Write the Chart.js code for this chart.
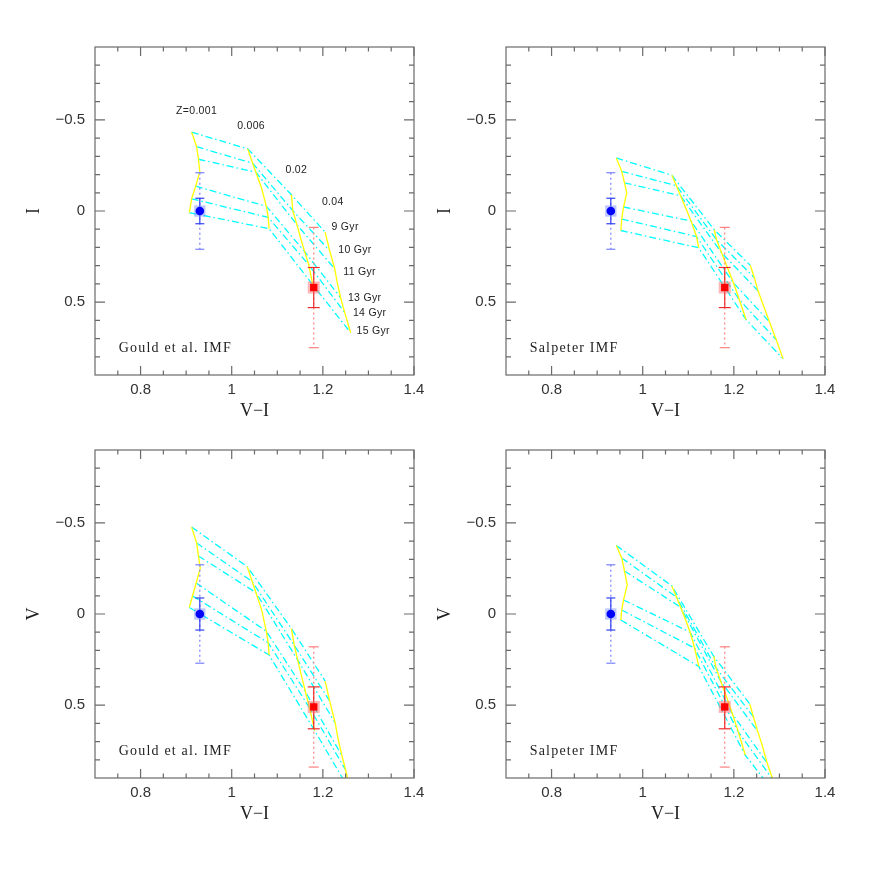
<!DOCTYPE html>
<html lang="en">
<head>
<meta charset="UTF-8">
<title>Red clump models vs V-I</title>
<script src="https://cdn.jsdelivr.net/npm/chart.js"></script>
<style>
  body { margin: 0; background: #fff; }
  .painel { position: absolute; width: 436px; height: 436px; }
</style>
</head>
<body>

<div class="painel" style="left:0px;top:0px"><canvas id="c1" width="436" height="436"></canvas></div>
<div class="painel" style="left:411px;top:0px"><canvas id="c2" width="436" height="436"></canvas></div>
<div class="painel" style="left:0px;top:403px"><canvas id="c3" width="436" height="436"></canvas></div>
<div class="painel" style="left:411px;top:403px"><canvas id="c4" width="436" height="436"></canvas></div>

<script>
// model ages (Gyr), 12 Gyr only sits on the yellow constant-Z lines
const ages = [9, 10, 11, 12, 13, 14, 15];
const cyanAges = [9, 10, 11, 13, 14, 15];
const metals = ['0.001', '0.006', '0.02', '0.04'];

// rows = Z (0.001, 0.006, 0.02, 0.04), columns = ages above
const gouldI_col = [
  [0.912, 0.923, 0.927, 0.930, 0.921, 0.912, 0.907],
  [1.035, 1.046, 1.053, 1.066, 1.076, 1.080, 1.082],
  [1.131, 1.134, 1.143, 1.151, 1.160, 1.169, 1.178],
  [1.205, 1.215, 1.226, 1.232, 1.239, 1.248, 1.261]
];
const gouldI_mag = [
  [-0.433, -0.353, -0.284, -0.216, -0.136, -0.067, 0.009],
  [-0.341, -0.262, -0.213, -0.122, -0.026, 0.035, 0.097],
  [-0.089, -0.002, 0.075, 0.147, 0.223, 0.295, 0.405],
  [0.116, 0.218, 0.317, 0.399, 0.476, 0.558, 0.668]
];

const salpI_col = [
  [0.942, 0.954, 0.960, 0.965, 0.958, 0.954, 0.952],
  [1.064, 1.074, 1.083, 1.093, 1.106, 1.118, 1.123],
  [1.157, 1.162, 1.173, 1.186, 1.199, 1.212, 1.227],
  [1.236, 1.245, 1.253, 1.263, 1.278, 1.293, 1.308]
];
const salpI_mag = [
  [-0.291, -0.217, -0.154, -0.099, -0.022, 0.044, 0.107],
  [-0.196, -0.139, -0.084, -0.025, 0.055, 0.140, 0.202],
  [0.103, 0.158, 0.229, 0.311, 0.394, 0.487, 0.597],
  [0.298, 0.366, 0.438, 0.506, 0.608, 0.707, 0.811]
];

const gouldV_col = [
  [0.912, 0.923, 0.927, 0.931, 0.922, 0.914, 0.907],
  [1.034, 1.045, 1.053, 1.066, 1.076, 1.080, 1.082],
  [1.131, 1.137, 1.145, 1.153, 1.162, 1.171, 1.182],
  [1.205, 1.215, 1.227, 1.234, 1.242, 1.250, 1.261]
];
const gouldV_mag = [
  [-0.477, -0.390, -0.318, -0.252, -0.170, -0.099, -0.036],
  [-0.260, -0.178, -0.118, -0.020, 0.095, 0.158, 0.225],
  [0.080, 0.170, 0.253, 0.340, 0.428, 0.516, 0.640],
  [0.368, 0.478, 0.598, 0.692, 0.779, 0.856, 0.977]
];

const salpV_col = [
  [0.942, 0.954, 0.960, 0.966, 0.958, 0.954, 0.952],
  [1.064, 1.074, 1.083, 1.093, 1.104, 1.114, 1.123],
  [1.156, 1.161, 1.171, 1.184, 1.197, 1.210, 1.225],
  [1.235, 1.243, 1.252, 1.262, 1.273, 1.286, 1.301]
];
const salpV_mag = [
  [-0.376, -0.307, -0.236, -0.159, -0.077, -0.022, 0.033],
  [-0.154, -0.093, -0.038, 0.025, 0.100, 0.188, 0.288],
  [0.233, 0.296, 0.368, 0.456, 0.549, 0.648, 0.774],
  [0.494, 0.565, 0.642, 0.719, 0.818, 0.911, 1.021]
];

// observed points: blue (dwarf sample) and red (clump)
const obsCol = [0.93, 1.18];
const obsI = [0.0, 0.42];
const obsI_err = [[-0.07, 0.07], [0.31, 0.53]];
const obsI_sys = [[-0.21, 0.21], [0.09, 0.75]];
const obsV = [0.0, 0.51];
const obsV_err = [[-0.088, 0.088], [0.40, 0.63]];
const obsV_sys = [[-0.27, 0.27], [0.18, 0.84]];

// axes
const xMajor = [0.8, 1, 1.2, 1.4];
const xMinor = [0.75, 0.85, 0.9, 0.95, 1.05, 1.1, 1.15, 1.25, 1.3, 1.35];
const yMajor = [-0.5, 0, 0.5];
const yMinor = [-0.8, -0.7, -0.6, -0.4, -0.3, -0.2, -0.1, 0.1, 0.2, 0.3, 0.4, 0.6, 0.7, 0.8];

// labels of the first panel (anchor in data units)
const zLabelX = [0.878, 1.012, 1.118, 1.198];
const zLabelY = [-0.550, -0.468, -0.227, -0.047];
const zLabelTxt = ['Z=0.001', '0.006', '0.02', '0.04'];
const ageLabelX = [1.219, 1.234, 1.245, 1.255, 1.266, 1.274];
const ageLabelY = [0.088, 0.216, 0.337, 0.478, 0.560, 0.661];


function fmt(v) {
  if (v === 0) return '0';
  if (v < 0) return '\u2212' + Math.abs(v);
  return String(v);
}

// box + inward ticks on the four sides + text labels
const caixa = {
  id: 'caixa',
  afterDatasetsDraw(chart, args, opts) {
    const ctx = chart.ctx;
    const a = chart.chartArea;
    const x = chart.scales.x, y = chart.scales.y;
    ctx.save();
    ctx.strokeStyle = '#6a6a6a';
    ctx.lineWidth = 1.2;
    ctx.strokeRect(a.left, a.top, a.right - a.left, a.bottom - a.top);
    ctx.beginPath();
    function tx(v, len) {
      const p = x.getPixelForValue(v);
      ctx.moveTo(p, a.bottom); ctx.lineTo(p, a.bottom - len);
      ctx.moveTo(p, a.top); ctx.lineTo(p, a.top + len);
    }
    function ty(v, len) {
      const p = y.getPixelForValue(v);
      ctx.moveTo(a.left, p); ctx.lineTo(a.left + len, p);
      ctx.moveTo(a.right, p); ctx.lineTo(a.right - len, p);
    }
    xMajor.forEach(v => tx(v, 9));
    xMinor.forEach(v => tx(v, 4.5));
    yMajor.forEach(v => ty(v, 10));
    yMinor.forEach(v => ty(v, 5));
    ctx.stroke();

    ctx.fillStyle = '#222';
    ctx.textBaseline = 'middle';
    ctx.textAlign = 'left';
    ctx.font = '14px "Liberation Serif"';
    ctx.letterSpacing = '1.2px';
    ctx.fillText(opts.imf, x.getPixelForValue(0.752), y.getPixelForValue(0.756));

    if (opts.rotulos) {
      ctx.font = '10.5px "Liberation Sans"';
      ctx.letterSpacing = '0.3px';
      for (let i = 0; i < zLabelTxt.length; i++) {
        ctx.fillText(zLabelTxt[i], x.getPixelForValue(zLabelX[i]), y.getPixelForValue(zLabelY[i]));
      }
      for (let i = 0; i < cyanAges.length; i++) {
        ctx.fillText(cyanAges[i] + ' Gyr', x.getPixelForValue(ageLabelX[i]), y.getPixelForValue(ageLabelY[i]));
      }
    }
    ctx.restore();
  }
};

function barra(xv, lims, cor, cap, tracejado, ordem) {
  return {
    data: [{ x: xv, y: lims[0] }, { x: xv, y: lims[1] }],
    showLine: true,
    borderColor: cor,
    borderWidth: 1.2,
    borderDash: tracejado ? [2, 3] : [],
    pointStyle: 'line',
    pointRadius: cap,
    pointHoverRadius: cap,
    pointBorderColor: cor,
    pointBorderWidth: 1.2,
    order: ordem
  };
}

function montar(id, col, mag, obsY, errY, sysY, titulo, imf, rotulos) {
  const datasets = [];

  // observed markers
  datasets.push({ data: [{ x: obsCol[0], y: obsY[0] }], pointStyle: 'circle', pointRadius: 4.3,
    backgroundColor: '#0000ff', borderWidth: 0, order: 0 });
  datasets.push({ data: [{ x: obsCol[0], y: obsY[0] }], pointStyle: 'rect', pointRadius: 8,
    backgroundColor: 'rgba(110,130,255,0.45)', borderWidth: 0, order: 1 });
  datasets.push({ data: [{ x: obsCol[1], y: obsY[1] }], pointStyle: 'rect', pointRadius: 5.2,
    backgroundColor: '#ff0000', borderWidth: 0, order: 0 });
  datasets.push({ data: [{ x: obsCol[1], y: obsY[1] }], pointStyle: 'rect', pointRadius: 8.5,
    backgroundColor: 'rgba(255,110,110,0.5)', borderWidth: 0, order: 1 });

  // error bars
  datasets.push(barra(obsCol[0], errY[0], '#3040f0', 4.5, false, 2));
  datasets.push(barra(obsCol[0], sysY[0], '#7a80ff', 4.5, true, 3));
  datasets.push(barra(obsCol[1], errY[1], '#ee2a2a', 6, false, 2));
  datasets.push(barra(obsCol[1], sysY[1], '#ff8080', 5, true, 3));

  // constant metallicity lines (yellow)
  for (let z = 0; z < metals.length; z++) {
    datasets.push({
      label: 'Z=' + metals[z],
      data: ages.map((a, i) => ({ x: col[z][i], y: mag[z][i] })),
      showLine: true, borderColor: '#ffff00', borderWidth: 1.3, pointRadius: 0, order: 4
    });
  }
  // constant age lines (cyan dash-dot)
  cyanAges.forEach(a => {
    const i = ages.indexOf(a);
    datasets.push({
      label: a + ' Gyr',
      data: metals.map((m, z) => ({ x: col[z][i], y: mag[z][i] })),
      showLine: true, borderColor: '#00ffff', borderWidth: 1.3, borderDash: [7, 3, 1.5, 3],
      pointRadius: 0, order: 5
    });
  });

  new Chart(document.getElementById(id), {
    type: 'scatter',
    data: { datasets: datasets },
    options: {
      responsive: false,
      animation: false,
      events: [],
      layout: { padding: { top: 47, right: 22, bottom: 0, left: 0 } },
      plugins: {
        legend: { display: false },
        tooltip: { enabled: false },
        caixa: { imf: imf, rotulos: rotulos }
      },
      scales: {
        x: {
          type: 'linear', min: 0.7, max: 1.4,
          grid: { display: false, drawTicks: false },
          border: { display: false },
          afterBuildTicks: s => { s.ticks = xMajor.map(v => ({ value: v })); },
          afterFit: s => { s.height = 61; },
          ticks: { padding: 6, color: '#333', font: { family: 'Liberation Sans', size: 15 }, callback: v => fmt(v) },
          title: { display: true, text: 'V\u2212I', color: '#222',
            font: { family: 'Liberation Serif', size: 18 }, padding: { top: 0, bottom: 14 } }
        },
        y: {
          type: 'linear', min: -0.9, max: 0.9, reverse: true,
          grid: { display: false, drawTicks: false },
          border: { display: false },
          afterBuildTicks: s => { s.ticks = yMajor.map(v => ({ value: v })); },
          afterFit: s => { s.width = 95; },
          ticks: { padding: 10, color: '#333', font: { family: 'Liberation Sans', size: 15 }, callback: v => fmt(v) },
          title: { display: true, text: titulo, color: '#222',
            font: { family: 'Liberation Serif', size: 18 }, padding: { top: 23, bottom: 0 } }
        }
      }
    },
    plugins: [caixa]
  });
}

montar('c1', gouldI_col, gouldI_mag, obsI, obsI_err, obsI_sys, 'I', 'Gould et al. IMF', true);
montar('c2', salpI_col, salpI_mag, obsI, obsI_err, obsI_sys, 'I', 'Salpeter IMF', false);
montar('c3', gouldV_col, gouldV_mag, obsV, obsV_err, obsV_sys, 'V', 'Gould et al. IMF', false);
montar('c4', salpV_col, salpV_mag, obsV, obsV_err, obsV_sys, 'V', 'Salpeter IMF', false);
</script>
</body>
</html>
